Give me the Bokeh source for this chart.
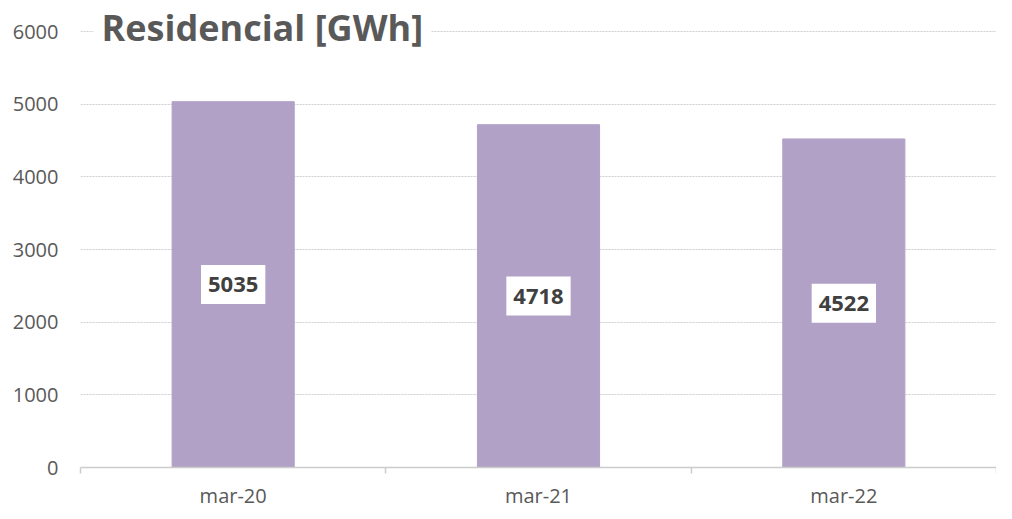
from bokeh.plotting import figure
from bokeh.models import ColumnDataSource, Range1d, FixedTicker, Label
from bokeh.core.properties import value
from bokeh.embed import file_html
from bokeh.resources import INLINE

categories = ["mar-20", "mar-21", "mar-22"]
values = [5035, 4718, 4522]
y_ticks = [0, 1000, 2000, 3000, 4000, 5000, 6000]

xs = [i + 0.5 for i in range(len(categories))]
src = ColumnDataSource(dict(x=xs, top=values, mid=[v / 2 for v in values],
                            label=[str(v) for v in values]))

FONT = "Open Sans"
TXT = "#595959"

p = figure(frame_width=916, frame_height=465, output_backend="svg", toolbar_location=None,
           x_range=Range1d(0, len(categories)), y_range=Range1d(0, 6400),
           min_border_left=80, min_border_right=0, min_border_top=2, min_border_bottom=30)
p.outline_line_color = None

p.vbar(x="x", top="top", width=0.4, source=src, color="#b2a1c7")

p.text(x="x", y="mid", text="label", source=src, text_align="center",
       text_baseline="middle", text_font=value(FONT), text_font_size="22px",
       text_font_style="bold", text_color="#404040",
       background_fill_color="white", padding=(7, 12))

# y axis
p.yaxis.ticker = FixedTicker(ticks=y_ticks)
p.yaxis.axis_line_color = None
p.yaxis.major_tick_line_color = None
p.yaxis.minor_tick_line_color = None
p.yaxis.major_label_text_font = FONT
p.yaxis.major_label_text_font_size = "20px"
p.yaxis.major_label_text_color = TXT
p.yaxis.major_label_standoff = 16

# x axis
p.xaxis.ticker = FixedTicker(ticks=xs, minor_ticks=list(range(len(categories) + 1)))
p.xaxis.major_label_overrides = {x: c for x, c in zip(xs, categories)}
p.xaxis.axis_line_color = "#cccccc"
p.xaxis.axis_line_width = 1.5
p.xaxis.major_tick_line_color = None
p.xaxis.minor_tick_line_color = "#cccccc"
p.xaxis.minor_tick_line_width = 1.5
p.xaxis.minor_tick_in = 0
p.xaxis.minor_tick_out = 6
p.xaxis.major_label_text_font = FONT
p.xaxis.major_label_text_font_size = "20px"
p.xaxis.major_label_text_color = TXT
p.xaxis.major_label_standoff = 8

p.xgrid.grid_line_color = None
p.ygrid.grid_line_color = "#cfcfcf"
p.ygrid.grid_line_width = 1.2
p.ygrid.grid_line_dash = "2 1"

title = Label(x=0, y=6000, x_offset=13, y_offset=4, text="Residencial [GWh]", text_font=FONT,
              text_font_size="36px", text_font_style="bold", text_color=TXT,
              text_baseline="middle", background_fill_color="white", padding=(8, 4))
p.add_layout(title)

open("out.html", "w").write(file_html(p, INLINE))
